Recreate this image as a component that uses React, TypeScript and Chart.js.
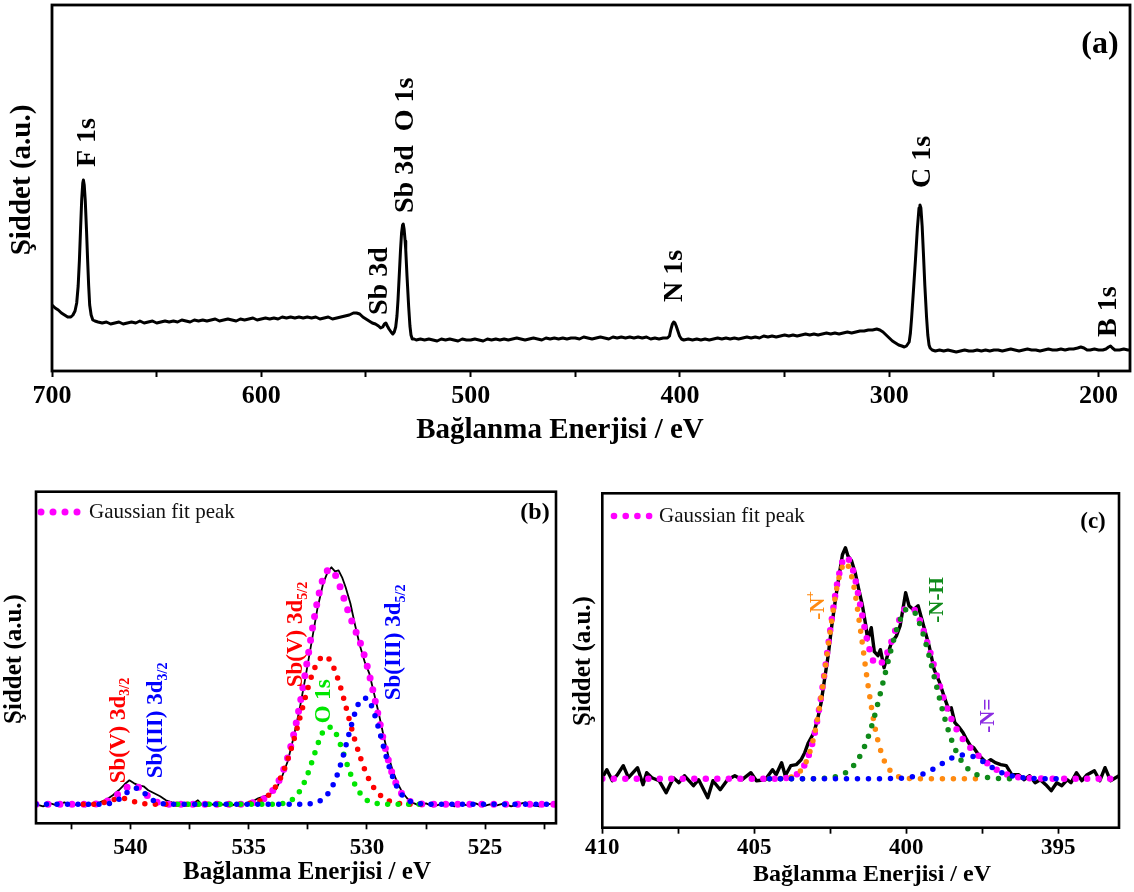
import React, { useEffect, useRef } from "react";
import { Chart, registerables } from "chart.js";

Chart.register(...registerables);

const SERIF = "'Liberation Serif', 'Times New Roman', Times, serif";

type Pt = [number, number];

// ---------------- (a) survey spectrum: [binding energy eV, intensity a.u.] ----------------
const surveySpectrum: Pt[] = [
  [700, 66], [698.5, 63], [697, 61], [695.5, 58], [694, 56], [692.5, 54], [691, 54], [690, 56], [689, 60],
  [688.2, 68], [687.5, 85], [686.9, 111], [686.3, 145], [685.8, 172], [685.3, 188], [685.0, 191], [684.6, 186],
  [684.1, 170], [683.5, 140], [683.0, 112], [682.5, 86], [682.0, 66], [681.3, 56], [680.5, 51], [679.5, 50],
  [678, 49], [676, 48], [674, 49], [672, 47], [670, 48], [668, 49], [666, 47], [664, 48], [662, 49], [660, 48],
  [658, 50], [656, 48], [654, 49], [652, 50], [650, 48], [648, 49], [646, 50], [644, 49], [642, 50], [640, 49],
  [638, 51], [636, 50], [634, 49], [632, 51], [630, 50], [628, 51], [626, 50], [624, 51], [622, 52], [620, 50],
  [618, 51], [616, 52], [614, 51], [612, 50], [610, 52], [608, 51], [606, 52], [604, 53], [602, 51], [600, 52],
  [598, 53], [596, 52], [594, 53], [592, 52], [590, 54], [588, 53], [586, 54], [584, 53], [582, 54], [580, 53],
  [578, 54], [576, 53], [574, 54], [572, 52], [570, 53], [568, 54], [566, 52], [564, 53], [562, 54], [560, 55],
  [558, 56], [556, 58], [554.5, 58], [553, 57], [551.5, 54], [550, 52], [548.5, 50], [547, 48], [545.5, 47],
  [544, 45], [543, 43], [542, 44], [541.2, 47], [540.5, 48], [539.8, 45], [539, 42], [538, 39], [537.2, 37],
  [536.5, 39], [535.8, 44], [535.2, 55], [534.7, 71], [534.0, 100], [533.5, 121], [533.0, 138], [532.5, 146],
  [532.2, 147], [531.8, 142], [531.3, 130], [531.0, 121], [530.4, 95], [529.6, 64], [529.0, 45], [528.5, 36],
  [527.9, 32], [527, 32], [526, 31], [524, 32], [522, 31], [520, 32], [518, 31], [516, 30], [514, 32], [512, 31],
  [510, 32], [508, 31], [506, 30], [504, 32], [502, 31], [500, 31], [498, 32], [496, 31], [494, 30], [492, 32],
  [490, 31], [488, 32], [486, 31], [484, 32], [482, 31], [480, 32], [478, 33], [476, 32], [474, 31], [472, 32],
  [470, 33], [468, 32], [466, 31], [464, 33], [462, 32], [460, 33], [458, 32], [456, 33], [454, 32], [452, 33],
  [450, 33], [448, 32], [446, 34], [444, 33], [442, 32], [440, 33], [438, 34], [436, 33], [434, 32], [432, 34],
  [430, 33], [428, 34], [426, 33], [424, 34], [422, 33], [420, 34], [418, 33], [416, 34], [414, 32], [412, 33],
  [410, 32], [408, 33], [406, 33], [405, 35], [404.4, 41], [403.6, 47], [403.0, 49], [402.4, 48], [401.8, 45],
  [401, 40], [400.2, 35], [399.3, 32], [398.2, 31], [396, 32], [394, 31], [392, 32], [390, 31], [388, 32],
  [386, 31], [384, 32], [382, 33], [380, 32], [378, 33], [376, 32], [374, 33], [372, 32], [370, 33], [368, 34],
  [366, 33], [364, 34], [362, 33], [360, 35], [358, 34], [356, 35], [354, 34], [352, 35], [350, 36], [348, 35],
  [346, 36], [344, 35], [342, 36], [340, 37], [338, 36], [336, 37], [334, 36], [332, 37], [330, 38], [328, 37],
  [326, 38], [324, 37], [322, 38], [320, 39], [318, 38], [316, 39], [314, 40], [312, 40], [310, 41], [308, 41],
  [306, 42], [304.5, 41], [303, 39], [301.5, 36], [300, 33], [298.5, 30], [297, 28], [295.5, 26], [294, 25],
  [292.8, 24], [291.8, 25], [290.5, 29], [289.9, 38], [289.3, 54], [288.4, 82], [287.5, 111], [286.6, 142],
  [285.8, 163], [285.35, 166], [284.9, 163], [284.3, 145], [283.7, 118], [283.0, 85], [282.2, 54], [281.6, 36],
  [281.0, 26], [280.5, 23], [279.5, 21], [278, 20], [276, 21], [274, 20], [272, 21], [270, 20], [268, 19],
  [266, 20], [264, 21], [262, 20], [260, 20], [258, 21], [256, 20], [254, 21], [252, 20], [250, 21], [248, 21],
  [246, 20], [244, 21], [242, 22], [240, 21], [238, 20], [236, 21], [234, 22], [232, 21], [230, 21], [228, 20],
  [226, 21], [224, 22], [222, 21], [220, 21], [218, 22], [216, 21], [214, 22], [212, 22], [210, 23], [208.5, 24],
  [207, 23], [205.5, 21], [204, 21], [202, 22], [200, 21], [198, 21], [196.5, 22], [195.2, 24], [194.3, 25],
  [193.4, 23], [192.2, 21], [190, 21], [188, 22], [186, 21], [185, 21],
];

const surveyPeakLabels = [
  { text: "F 1s", energy: 683.0, intensity: 204 },
  { text: "Sb 3d", energy: 543.2, intensity: 56 },
  { text: "Sb 3d  O 1s", energy: 530.9, intensity: 158 },
  { text: "N 1s", energy: 402.6, intensity: 69 },
  { text: "C 1s", energy: 284.0, intensity: 183 },
  { text: "B 1s", energy: 195.3, intensity: 34 },
];

// ---------------- (b) Sb 3d / O 1s region ----------------
const sbExperimental: Pt[] = [
  [544.0, 19], [543.7, 17], [543.4, 20], [543.1, 18], [542.8, 21], [542.5, 18], [542.2, 19], [541.9, 17],
  [541.6, 20], [541.3, 21], [541.0, 24], [540.75, 28], [540.5, 33], [540.25, 39], [540.05, 43], [539.85, 40],
  [539.65, 38], [539.45, 37], [539.25, 33], [539.0, 30], [538.75, 27], [538.5, 23], [538.25, 21], [538.0, 20],
  [537.7, 18], [537.4, 19], [537.15, 23], [536.95, 18], [536.7, 20], [536.4, 18], [536.1, 19], [535.8, 17],
  [535.5, 20], [535.2, 19], [534.9, 21], [534.6, 25], [534.35, 27], [534.1, 29], [533.85, 34], [533.6, 46],
  [533.35, 62], [533.1, 86], [532.85, 114], [532.6, 146], [532.35, 180], [532.1, 214], [531.85, 240],
  [531.65, 252], [531.5, 256], [531.35, 252], [531.2, 253], [531.05, 246], [530.9, 236], [530.7, 220],
  [530.5, 198], [530.3, 178], [530.1, 162], [529.9, 150], [529.7, 130], [529.5, 110], [529.3, 88], [529.1, 68],
  [528.9, 52], [528.7, 40], [528.5, 31], [528.3, 25], [528.1, 21], [527.8, 18], [527.5, 20], [527.2, 17],
  [526.9, 19], [526.6, 20], [526.3, 17], [526.0, 19], [525.7, 18], [525.4, 20], [525.1, 17], [524.8, 19],
  [524.5, 18], [524.2, 20], [523.9, 17], [523.6, 19], [523.3, 21], [523.0, 18], [522.7, 17], [522.4, 19], [522.0, 20],
];

const sbFitTotal: Pt[] = [
  [544, 19], [541.75, 19], [541.5, 19.2], [541.25, 20.1], [541, 22], [540.75, 25.1], [540.5, 29.7], [540.25, 34.4],
  [540, 37.5], [539.75, 37.1], [539.5, 32.6], [539.25, 26.8], [539, 22.3], [538.75, 20.1], [538.5, 19.3],
  [538.25, 19], [535.25, 19], [535, 19.9], [534.75, 20.9], [534.5, 22.9], [534.25, 26.4], [534, 32.2],
  [533.75, 41.4], [533.5, 55.1], [533.25, 74.4], [533, 99.2], [532.75, 130.1], [532.5, 165.9], [532.25, 202.2],
  [532, 232.3], [531.75, 250.7], [531.5, 253.7], [531.25, 243.6], [531, 227], [530.75, 209], [530.5, 193.7],
  [530.25, 178.6], [530, 158.4], [529.75, 133.5], [529.5, 105.6], [529.25, 78.1], [529, 55.2], [528.75, 38.9],
  [528.5, 28.7], [528.25, 23], [528, 20.5], [527.75, 19.5], [527.5, 19.2], [527.25, 19], [522, 19],
];

const sbVPeaks: Pt[] = [
  [542, 19], [541.75, 19], [541.5, 19.2], [541.25, 20], [541, 21.5], [540.75, 23.4], [540.5, 24.9], [540.25, 24.7],
  [540, 23], [539.75, 21.1], [539.5, 19.8], [539.25, 19.2], [539, 19], [535.25, 19], [535, 19.9], [534.75, 20.9],
  [534.5, 22.9], [534.25, 26.4], [534, 32.2], [533.75, 41], [533.5, 53.9], [533.25, 71], [533, 91], [532.75, 113],
  [532.5, 134.9], [532.25, 153], [532, 164], [531.75, 167], [531.5, 160.5], [531.25, 146], [531, 126.5],
  [530.75, 104], [530.5, 82.6], [530.25, 64], [530, 48.3], [529.75, 37], [529.5, 29.5], [529.25, 24.7],
  [529, 21.9], [528.75, 20.4], [528.5, 19.6], [528, 19], [527.5, 19],
];

const o1sPeak: Pt[] = [
  [538, 19], [534, 19], [533.75, 19.4], [533.5, 20.2], [533.25, 22.4], [533, 27.2], [532.75, 36], [532.5, 49.6],
  [532.25, 67], [532, 84], [531.75, 95], [531.5, 96], [531.25, 86.8], [531, 70.5], [530.75, 53], [530.5, 38.4],
  [530.25, 29], [530, 23.1], [529.75, 20.5], [529.5, 19.5], [529.25, 19.1], [527.5, 19],
];

const sbIIIPeaks: Pt[] = [
  [544, 19], [541.25, 19.1], [541, 19.5], [540.75, 20.7], [540.5, 23.8], [540.25, 28.7], [540, 33.5],
  [539.75, 35], [539.5, 31.8], [539.25, 26.6], [539, 22.3], [538.75, 20.1], [538.5, 19.3], [538.25, 19],
  [533, 19], [532.75, 19.1], [532.5, 19.4], [532.25, 20.2], [532, 22.3], [531.75, 26.7], [531.5, 35.2],
  [531.25, 48.8], [531, 68], [530.75, 90], [530.5, 110.7], [530.25, 123.6], [530, 125], [529.75, 114],
  [529.5, 94.6], [529.25, 72.3], [529, 52.3], [528.75, 37.5], [528.5, 28.1], [528.25, 23], [528, 20.5],
  [527.75, 19.5], [527.5, 19.2], [527.25, 19], [522, 19],
];

// ---------------- (c) N 1s region ----------------
const nExperimental: Pt[] = [
  [410.0, 50], [409.85, 58], [409.67, 47], [409.5, 53], [409.31, 62], [409.14, 50], [408.84, 60], [408.66, 43],
  [408.54, 55], [408.37, 50], [408.13, 47], [407.9, 35], [407.66, 50], [407.48, 45], [407.3, 52], [407.0, 42],
  [406.83, 48], [406.53, 30], [406.36, 47], [406.12, 38], [405.88, 48], [405.64, 52], [405.4, 48], [405.11, 55],
  [404.93, 47], [404.64, 48], [404.4, 58], [404.28, 53], [404.1, 65], [403.98, 52], [403.8, 62], [403.62, 63],
  [403.46, 68], [403.34, 75], [403.22, 85], [403.04, 95], [402.92, 108], [402.8, 125], [402.69, 148],
  [402.57, 172], [402.45, 202], [402.33, 228], [402.21, 252], [402.1, 273], [402.0, 280], [401.92, 272],
  [401.8, 267], [401.68, 255], [401.56, 238], [401.44, 222], [401.33, 202], [401.27, 188], [401.15, 200],
  [401.05, 176], [400.93, 172], [400.85, 178], [400.73, 160], [400.62, 172], [400.5, 184], [400.32, 192],
  [400.2, 202], [400.02, 235], [399.91, 222], [399.76, 218], [399.61, 222], [399.43, 202], [399.25, 182],
  [399.08, 158], [398.9, 145], [398.72, 128], [398.6, 118], [398.52, 120], [398.4, 105], [398.25, 100],
  [398.13, 95], [398.01, 88], [397.89, 82], [397.78, 80], [397.6, 72], [397.36, 65], [397.22, 68], [397.07, 65],
  [396.89, 63], [396.71, 62], [396.53, 53], [396.3, 53], [396.12, 48], [395.94, 52], [395.76, 45], [395.59, 48],
  [395.41, 43], [395.23, 37], [395.05, 45], [394.88, 42], [394.7, 48], [394.58, 45], [394.4, 55], [394.22, 47],
  [394.05, 53], [393.81, 57], [393.63, 47], [393.46, 60], [393.28, 47], [393.0, 52],
];

const nFitTotal: Pt[] = [
  [410, 49], [404.5, 49], [404, 49.5], [403.75, 51], [403.5, 56.2], [403.25, 69], [403, 96.1], [402.75, 141.3],
  [402.5, 197.5], [402.25, 247.5], [402, 270.9], [401.75, 257.5], [401.5, 220.5], [401.25, 183], [401, 163.5],
  [400.75, 167], [400.5, 185.1], [400.25, 206.3], [400, 219.5], [399.75, 218.3], [399.5, 203.2], [399.25, 179.4],
  [399, 152.7], [398.75, 127.5], [398.5, 107.8], [398.25, 93.5], [398, 83.6], [397.75, 75.5], [397.5, 68.6],
  [397.25, 62.5], [397, 57.5], [396.75, 53.9], [396.5, 51.5], [396.25, 50.2], [396, 49.5], [395.5, 49.1],
  [395, 49], [393, 49],
];

const nPlusPeak: Pt[] = [
  [404.5, 49], [404.25, 49.1], [404, 49.5], [403.75, 51], [403.5, 56], [403.25, 69], [403, 96], [402.75, 141],
  [402.5, 196.5], [402.25, 245], [402, 265], [401.75, 245], [401.5, 196.5], [401.25, 141], [401, 96],
  [400.75, 69], [400.5, 56], [400.25, 51], [400, 49.5], [399.75, 49.1], [399.5, 49], [397.5, 49],
];

const nhPeak: Pt[] = [
  [404.5, 49], [403.25, 49], [403, 49.1], [402.75, 49.3], [402.5, 50], [402.25, 51.5], [402, 54.9], [401.75, 61.5],
  [401.5, 73], [401.25, 91], [401, 116.5], [400.75, 147], [400.5, 178], [400.25, 204], [400, 218], [399.75, 216],
  [399.5, 199], [399.25, 172], [399, 141], [398.75, 111], [398.5, 87], [398.25, 70], [398, 59.8], [397.75, 54],
  [397.5, 51.1], [397.25, 49.8], [397, 49.3], [396.75, 49.1], [396.5, 49],
];

const nIminePeak: Pt[] = [
  [404.5, 49], [400.5, 49.1], [400, 50], [399.75, 51.2], [399.5, 53.2], [399.25, 56.4], [399, 60.7],
  [398.75, 65.5], [398.5, 69.8], [398.25, 72.5], [398, 72.8], [397.75, 70.5], [397.5, 66.5], [397.25, 61.7],
  [397, 57.2], [396.75, 53.8], [396.5, 51.5], [396.25, 50.2], [396, 49.5], [395.5, 49.1], [395, 49],
];

// ---------------- colours ----------------
const MAGENTA = "#ff00ff";
const RED = "#ff0000";
const BLUE = "#0000ff";
const LIME = "#00e600";
const ORANGE = "#ff8a10";
const DKGREEN = "#0f8a1a";
const VIOLET = "#8a2be2";

const sbPeakLabels = [
  { text: "Sb(V) 3d", sub: "3/2", energy: 540.5, intensity: 40, color: RED },
  { text: "Sb(III) 3d", sub: "3/2", energy: 538.9, intensity: 45, color: BLUE },
  { text: "Sb(V) 3d", sub: "5/2", energy: 533.0, intensity: 136, color: RED },
  { text: "O 1s", energy: 531.8, intensity: 100, color: LIME },
  { text: "Sb(III) 3d", sub: "5/2", energy: 528.85, intensity: 123, color: BLUE },
];

const nPeakLabels = [
  { text: "-N", sup: "+", energy: 402.9, intensity: 208, color: ORANGE },
  { text: "-N-H", energy: 398.98, intensity: 205, color: DKGREEN },
  { text: "-N=", energy: 397.3, intensity: 95, color: VIOLET },
];

// ---------------- helpers ----------------
const toXY = (pts: Pt[]) => pts.map(([x, y]) => ({ x, y }));

function solidSet(pts: Pt[], color: string, width: number, order: number) {
  return {
    data: toXY(pts),
    borderColor: color,
    borderWidth: width,
    pointRadius: 0,
    tension: 0,
    fill: false,
    order,
    borderJoinStyle: "round",
  };
}

function dottedSet(pts: Pt[], color: string, width: number, gap: number, order: number) {
  return {
    data: toXY(pts),
    borderColor: color,
    borderWidth: width,
    borderDash: [0, gap],
    borderCapStyle: "round",
    pointRadius: 0,
    cubicInterpolationMode: "monotone",
    fill: false,
    order,
  };
}

interface TextSpec {
  text: string;
  x: number;
  y: number;
  size: number;
  bold?: boolean;
  color?: string;
  rotate?: boolean;
  align?: CanvasTextAlign;
  sub?: string;
  sup?: string;
}

function drawText(ctx: CanvasRenderingContext2D, t: TextSpec) {
  ctx.save();
  ctx.translate(t.x, t.y);
  if (t.rotate) ctx.rotate(-Math.PI / 2);
  const weight = t.bold ? "bold " : "";
  ctx.font = `${weight}${t.size}px ${SERIF}`;
  ctx.fillStyle = t.color ?? "#000";
  ctx.textBaseline = "middle";
  ctx.textAlign = t.align ?? "center";
  ctx.fillText(t.text, 0, 0);
  if (t.sub || t.sup) {
    const w = ctx.measureText(t.text).width;
    const s = Math.round(t.size * 0.62);
    ctx.font = `${weight}${s}px ${SERIF}`;
    ctx.textAlign = "left";
    if (t.sub) ctx.fillText(t.sub, w, t.size * 0.3);
    if (t.sup) ctx.fillText(t.sup, w - 1, -t.size * 0.36);
  }
  ctx.restore();
}

function drawFrame(chart: any, lw: number) {
  const { left, top, right, bottom } = chart.chartArea;
  const ctx = chart.ctx;
  ctx.save();
  ctx.strokeStyle = "#000";
  ctx.lineWidth = lw;
  ctx.strokeRect(left, top, right - left, bottom - top);
  ctx.restore();
}

function drawLegend(ctx: CanvasRenderingContext2D, x0: number, y: number, step: number, r: number, textX: number, size: number) {
  ctx.save();
  ctx.fillStyle = MAGENTA;
  for (let i = 0; i < 4; i++) {
    ctx.beginPath();
    ctx.arc(x0 + i * step, y, r, 0, Math.PI * 2);
    ctx.fill();
  }
  ctx.restore();
  drawText(ctx, { text: "Gaussian fit peak", x: textX, y, size, align: "left", color: "#111" });
}

function xAxis(min: number, max: number, step: number, labelEvery: number, height: number, fontSize: number, pad: number, tickW: number) {
  return {
    type: "linear",
    reverse: true,
    min,
    max,
    afterFit: (s: any) => {
      s.height = height;
      s.paddingLeft = 0;
      s.paddingRight = 0;
      s.paddingTop = 0;
      s.paddingBottom = 0;
    },
    grid: {
      display: true,
      drawOnChartArea: false,
      drawTicks: true,
      tickLength: 6,
      tickWidth: tickW,
      tickColor: "#000",
    },
    border: { display: false },
    ticks: {
      stepSize: step,
      includeBounds: false,
      autoSkip: false,
      maxRotation: 0,
      minRotation: 0,
      padding: pad,
      color: "#000",
      font: { family: SERIF, size: fontSize, weight: "bold" },
      callback: (v: number) => (Math.abs(v % labelEvery) < 1e-6 ? String(v) : ""),
    },
  };
}

function baseOptions(padding: any, x: any, yMax: number) {
  return {
    responsive: false,
    maintainAspectRatio: false,
    animation: false,
    events: [],
    devicePixelRatio: 1,
    layout: { padding },
    plugins: { legend: { display: false }, tooltip: { enabled: false } },
    scales: {
      x,
      y: { type: "linear", display: false, min: 0, max: yMax },
    },
  };
}

// ---------------- chart configs ----------------
function buildSurvey() {
  return {
    type: "line",
    data: { datasets: [solidSet(surveySpectrum, "#000", 3, 1)] },
    options: baseOptions(
      { left: 52, right: 4, top: 5, bottom: 0 },
      xAxis(185, 700, 50, 100, 89, 26, 4, 2),
      366
    ),
    plugins: [
      {
        id: "decorA",
        afterDraw(chart: any) {
          const ctx = chart.ctx;
          drawFrame(chart, 2.8);
          const xs = chart.scales.x;
          const ys = chart.scales.y;
          for (const l of surveyPeakLabels) {
            drawText(ctx, {
              text: l.text,
              x: xs.getPixelForValue(l.energy),
              y: ys.getPixelForValue(l.intensity),
              size: 28,
              bold: true,
              rotate: true,
              align: "left",
            });
          }
          drawText(ctx, { text: "(a)", x: 1100, y: 45, size: 32, bold: true });
          drawText(ctx, { text: "Bağlanma Enerjisi / eV", x: 560, y: 431, size: 29, bold: true });
          drawText(ctx, { text: "Şiddet (a.u.)", x: 23, y: 180, size: 29, bold: true, rotate: true });
        },
      },
    ],
  };
}

function buildSb() {
  return {
    type: "line",
    data: {
      datasets: [
        solidSet(sbExperimental, "#000", 1.8, 10),
        dottedSet(sbFitTotal, MAGENTA, 7, 12, 5),
        dottedSet(sbVPeaks, RED, 5.5, 10.5, 3),
        dottedSet(o1sPeak, LIME, 5.5, 10.5, 2),
        dottedSet(sbIIIPeaks, BLUE, 5.5, 10.5, 1),
      ],
    },
    options: baseOptions(
      { left: 36, right: 14, top: 21.7, bottom: 0 },
      xAxis(522, 544, 2.5, 5, 68.7, 23, 5, 1.8),
      331.6
    ),
    plugins: [
      {
        id: "decorB",
        afterDraw(chart: any) {
          const ctx = chart.ctx;
          drawFrame(chart, 2.6);
          const xs = chart.scales.x;
          const ys = chart.scales.y;
          for (const l of sbPeakLabels) {
            drawText(ctx, {
              text: l.text,
              sub: (l as any).sub,
              x: xs.getPixelForValue(l.energy),
              y: ys.getPixelForValue(l.intensity),
              size: 23,
              bold: true,
              rotate: true,
              align: "left",
              color: l.color,
            });
          }
          drawLegend(ctx, 41, 42, 12, 3.5, 89, 21);
          drawText(ctx, { text: "(b)", x: 535, y: 43, size: 24, bold: true });
          drawText(ctx, { text: "Bağlanma Enerjisi / eV", x: 307, y: 403, size: 25, bold: true });
          drawText(ctx, { text: "Şiddet (a.u.)", x: 15, y: 189, size: 25, bold: true, rotate: true });
        },
      },
    ],
  };
}

function buildN() {
  return {
    type: "line",
    data: {
      datasets: [
        solidSet(nExperimental, "#000", 3.4, 10),
        dottedSet(nFitTotal, MAGENTA, 6.5, 11.5, 5),
        dottedSet(nPlusPeak, ORANGE, 5.5, 11, 3),
        dottedSet(nhPeak, DKGREEN, 5.5, 11, 2),
        dottedSet(nIminePeak, BLUE, 5.5, 11, 1),
      ],
    },
    options: baseOptions(
      { left: 32.3, right: 15, top: 23.3, bottom: 0 },
      xAxis(393, 410, 2.5, 5, 64.3, 23, 1, 1.8),
      334.4
    ),
    plugins: [
      {
        id: "decorC",
        afterDraw(chart: any) {
          const ctx = chart.ctx;
          drawFrame(chart, 2.6);
          const xs = chart.scales.x;
          const ys = chart.scales.y;
          for (const l of nPeakLabels) {
            drawText(ctx, {
              text: l.text,
              sup: (l as any).sup,
              x: xs.getPixelForValue(l.energy),
              y: ys.getPixelForValue(l.intensity),
              size: 21,
              bold: true,
              rotate: true,
              align: "left",
              color: l.color,
            });
          }
          drawLegend(ctx, 44, 46, 11.7, 3.3, 89, 21);
          drawText(ctx, { text: "(c)", x: 523, y: 52, size: 23, bold: true });
          drawText(ctx, { text: "Bağlanma Enerjisi / eV", x: 302, y: 405, size: 24, bold: true });
          drawText(ctx, { text: "Şiddet (a.u.)", x: 14, y: 191, size: 25, bold: true, rotate: true });
        },
      },
    ],
  };
}

function ChartCanvas({ left, top, width, height, build }: { left: number; top: number; width: number; height: number; build: () => any }) {
  const ref = useRef<HTMLCanvasElement>(null);
  useEffect(() => {
    if (!ref.current) return;
    const chart = new Chart(ref.current, build());
    return () => chart.destroy();
  }, []);
  return (
    <canvas
      ref={ref}
      width={width}
      height={height}
      style={{ position: "absolute", left, top, width, height, display: "block" }}
    />
  );
}

export default function App() {
  return (
    <div style={{ position: "absolute", left: 0, top: 0, width: 1134, height: 892, background: "#fff", overflow: "hidden" }}>
      <ChartCanvas left={0} top={0} width={1134} height={460} build={buildSurvey} />
      <ChartCanvas left={0} top={470} width={570} height={422} build={buildSb} />
      <ChartCanvas left={570} top={470} width={564} height={422} build={buildN} />
    </div>
  );
}
